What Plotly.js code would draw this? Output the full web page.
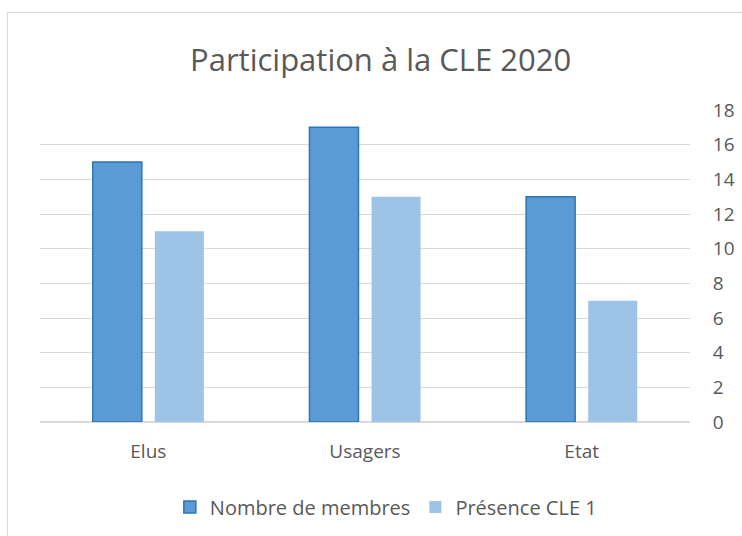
<!DOCTYPE html>
<html><head><meta charset="utf-8">
<script src="https://cdn.plot.ly/plotly-3.0.1.min.js"></script>
<style>
html,body{margin:0;padding:0;width:742px;height:536px;overflow:hidden;background:#fff;}
#frame{position:absolute;left:7px;top:12px;width:800px;height:600px;border:1px solid #d9d9d9;}
#chart{position:absolute;left:0;top:0;width:742px;height:536px;}
</style></head>
<body>
<div id="frame"></div>
<div id="chart"></div>
<script>
const categories = ["Elus", "Usagers", "Etat"];
const membres = [15, 17, 13];
const presence = [11, 13, 7];
const seriesNames = ["Nombre de membres", "Présence CLE 1"];
const yTicks = [0, 2, 4, 6, 8, 10, 12, 14, 16, 18];

const font = "'Open Sans', sans-serif";
const data = [
  {type:'bar', x:categories, y:membres, name:seriesNames[0],
   marker:{color:'#5B9BD5', line:{color:'#2E75B6', width:1.5}}},
  {type:'bar', x:categories, y:presence, name:seriesNames[1],
   marker:{color:'#9DC3E6', line:{color:'#9DC3E6', width:0}}}
];
const layout = {
  width:742, height:536,
  paper_bgcolor:'rgba(0,0,0,0)', plot_bgcolor:'rgba(0,0,0,0)',
  margin:{l:40, r:52, t:110, b:114, autoexpand:false},
  barmode:'group', bargap:0.427, bargroupgap:0.21,
  title:{text:'Participation à la CLE 2020', x:0.513, xref:'container', xanchor:'center',
         y:0.888, yref:'container', yanchor:'middle',
         font:{family:font, size:31, color:'#595959'}},
  xaxis:{type:'category', showgrid:false, zeroline:false, showline:false,
         ticks:'outside', ticklen:12, tickcolor:'rgba(0,0,0,0)',
         tickfont:{family:font, size:19, color:'#595959'}},
  yaxis:{side:'right', range:[0,18], tickvals:yTicks, showline:false,
         gridcolor:'#d9d9d9', gridwidth:1, zeroline:true, zerolinecolor:'#d9d9d9', zerolinewidth:1.5,
         ticks:'outside', ticklen:18, tickcolor:'rgba(0,0,0,0)',
         tickfont:{family:font, size:19, color:'#595959'}},
  showlegend:true,
  legend:{orientation:'h', x:0.52, xref:'container', xanchor:'center', y:0.054, yref:'container', yanchor:'middle',
          font:{family:font, size:20, color:'#595959'}, itemwidth:30, traceorder:'normal'}
};
Plotly.newPlot('chart', data, layout, {displayModeBar:false, staticPlot:true});
</script>
</body></html>
